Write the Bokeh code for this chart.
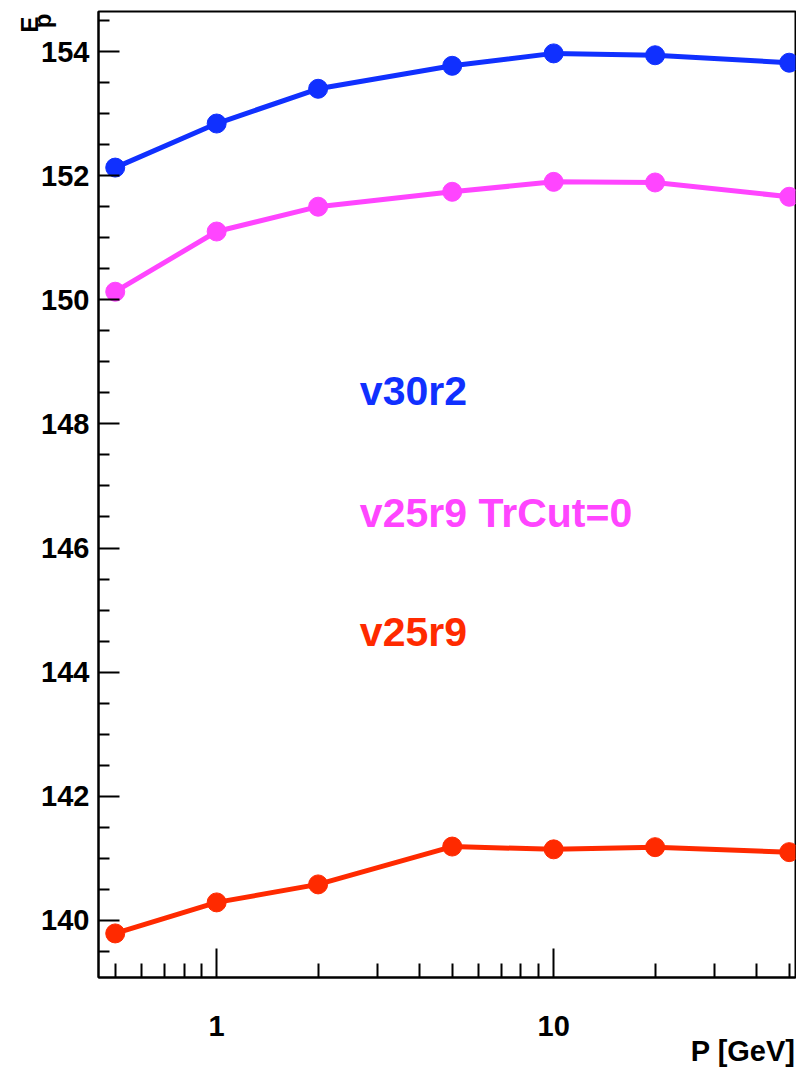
from bokeh.plotting import figure
from bokeh.models import Range1d, FixedTicker, PrintfTickFormatter, Label, Title
from bokeh.embed import file_html
from bokeh.resources import INLINE

# ---- data ----
p_gev = [0.5, 1, 2, 5, 10, 20, 50]
v30r2 = [152.13, 152.84, 153.40, 153.77, 153.97, 153.94, 153.82]
v25r9_trcut0 = [150.13, 151.10, 151.50, 151.74, 151.90, 151.89, 151.66]
v25r9 = [139.79, 140.29, 140.58, 141.19, 141.145, 141.18, 141.10]

series_names = ["v30r2", "v25r9 TrCut=0", "v25r9"]
series_colors = ["#1030ff", "#ff45ff", "#ff2a00"]

y_major = [140, 142, 144, 146, 148, 150, 152, 154]
y_minor = [139.5 + 0.5 * i for i in range(31) if (139.5 + 0.5 * i) not in y_major]
x_major = [1, 10]
x_minor = [0.5, 0.6, 0.7, 0.8, 0.9, 2, 3, 4, 5, 6, 7, 8, 9, 20, 30, 40, 50]

x_title = "P [GeV]"
y_title_num = "E"
y_title_den = "p"

FONT = "Liberation Sans"

p = figure(width=796, height=1070, x_axis_type="log",
           x_range=Range1d(0.446, 52.2), y_range=Range1d(139.08, 154.645),
           output_backend="svg", toolbar_location=None,
           min_border_left=98, min_border_top=11, min_border_right=1,
           min_border_bottom=93)

p.xgrid.visible = False
p.ygrid.visible = False
p.background_fill_color = "white"
p.border_fill_color = "white"
p.outline_line_color = "black"
p.outline_line_width = 2

for ys, col in zip([v30r2, v25r9_trcut0, v25r9], series_colors):
    p.line(p_gev, ys, line_color=col, line_width=5)
    p.scatter(p_gev, ys, size=19, fill_color=col, line_color=col)

# axes
xa = p.xaxis[0]
xa.ticker = FixedTicker(ticks=x_major, minor_ticks=x_minor)
xa.formatter = PrintfTickFormatter(format="%d")
xa.major_tick_in = 29
xa.major_tick_out = 0
xa.minor_tick_in = 14
xa.minor_tick_out = 0
xa.major_label_standoff = 38

ya = p.yaxis[0]
ya.ticker = FixedTicker(ticks=y_major, minor_ticks=y_minor)
ya.major_tick_in = 21
ya.major_tick_out = 0
ya.minor_tick_in = 11
ya.minor_tick_out = 0
ya.major_label_standoff = 9

for ax in (xa, ya):
    ax.axis_line_width = 2
    ax.axis_line_color = "black"
    ax.major_tick_line_width = 2
    ax.minor_tick_line_width = 2
    ax.major_tick_line_color = "black"
    ax.minor_tick_line_color = "black"
    ax.major_label_text_font = FONT
    ax.major_label_text_font_style = "bold"
    ax.major_label_text_font_size = "29px"
    ax.major_label_text_color = "black"

# axis titles (ROOT style: at the far end of each axis)
p.add_layout(Title(text=x_title, align="right", standoff=-12,
                   text_font=FONT, text_font_style="bold",
                   text_font_size="29px", text_color="black"), "below")
p.add_layout(Title(text=y_title_den, align="right", standoff=-34, offset=2,
                   text_font=FONT, text_font_style="bold",
                   text_font_size="24px", text_color="black"), "left")
p.add_layout(Title(text=y_title_num, align="right", standoff=-8, offset=5,
                   text_font=FONT, text_font_style="bold",
                   text_font_size="24px", text_color="black"), "left")

# series labels
label_y = [148.53, 146.56, 144.65]
for name, col, ly in zip(series_names, series_colors, label_y):
    p.add_layout(Label(x=2.66, y=ly, text=name, text_color=col,
                       text_font=FONT, text_font_style="bold",
                       text_font_size="41px", text_baseline="alphabetic"))

open("out.html", "w").write(file_html(p, INLINE))
